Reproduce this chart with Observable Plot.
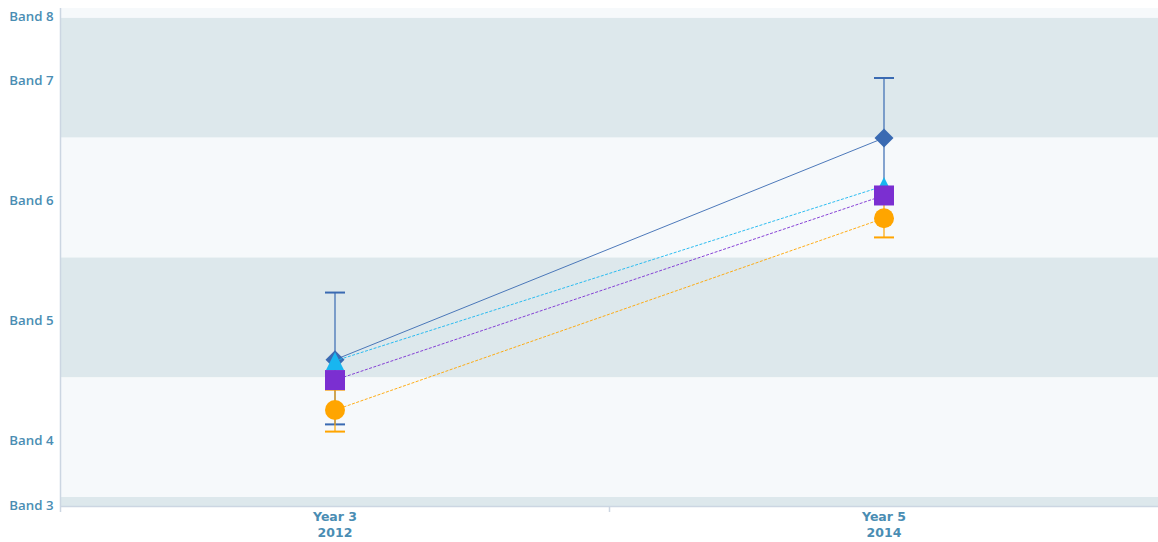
<!DOCTYPE html>
<html><head><meta charset="utf-8">
<script src="https://cdn.jsdelivr.net/npm/d3@7"></script>
<script src="https://cdn.jsdelivr.net/npm/@observablehq/plot@0.6"></script>
<style>body{margin:0;background:#fff;}</style>
</head><body><div id="chart"></div>
<script>
// ---- data ----
const categories = ["Year 3", "Year 5"];
const years = ["2012", "2014"];
const bandLabels = ["Band 3", "Band 4", "Band 5", "Band 6", "Band 7", "Band 8"];
const bandLabelValues = [3.46, 4, 5, 6, 7, 7.54];
const bandLow = [3, 3.5, 4.5, 5.5, 6.5, 7.5];
const bandHigh = [3.5, 4.5, 5.5, 6.5, 7.5, 8.5];
const yDomain = [3.425, 7.58];

const seriesNames = ["Series A", "Series B", "Series C", "Series D"];
const valuesA = [4.65, 6.5];
const valuesB = [4.64, 6.1];
const valuesC = [4.48, 6.02];
const valuesD = [4.23, 5.83];
const errLowA = [4.11, 6.0];
const errHighA = [5.21, 7.0];
const errLowD = [4.05, 5.67];
const errHighD = [4.4, 5.98];

// ---- styles ----
const seriesColors = ["#3a6ab2", "#18b6f0", "#7b2fd1", "#ffa500"];
const seriesDash = [null, "3,1.5", "3,1.5", "3,1.5"];
const labelColor = "#4a8db3";
const axisColor = "#ccd6e2";
const darkBand = "#dde8ec";
const lightBand = "#f6f9fb";
const xFont = "'DejaVu Sans', sans-serif";

const sym = {
  diamond: {draw(c, s) { const r = Math.sqrt(s / Math.PI); c.moveTo(0, -r); c.lineTo(r, 0); c.lineTo(0, r); c.lineTo(-r, 0); c.closePath(); }},
  triangle: {draw(c, s) { const r = Math.sqrt(s / Math.PI); c.moveTo(0, -r); c.lineTo(r, r); c.lineTo(-r, r); c.closePath(); }},
  square: {draw(c, s) { const r = Math.sqrt(s / Math.PI); c.rect(-r, -r, 2 * r, 2 * r); }},
  circle: {draw(c, s) { const r = Math.sqrt(s / Math.PI); c.moveTo(r, 0); c.arc(0, 0, r, 0, 2 * Math.PI); c.closePath(); }},
  cap: {draw(c, s) { const r = Math.sqrt(s / Math.PI); c.moveTo(-r, 0); c.lineTo(r, 0); }}
};
const seriesSymbols = [sym.diamond, sym.triangle, sym.square, sym.circle];
const seriesR = [9.5, 9, 10, 10];

const seriesValues = [valuesA, valuesB, valuesC, valuesD];
const seriesErr = [[errLowA, errHighA], null, null, [errLowD, errHighD]];

const xIdx = categories.map((_, i) => i + 0.5);
const bands = bandLabels.map((b, i) => ({band: b, lo: bandLow[i], hi: bandHigh[i], i}));
const catRows = categories.map((c, i) => ({x: xIdx[i], cat: c, year: years[i]}));

const marks = [];
marks.push(Plot.rect(bands, {x1: () => 0, x2: () => categories.length, y1: "lo", y2: "hi",
  fill: d => d.i % 2 === 0 ? darkBand : lightBand, clip: true}));
marks.push(Plot.ruleX([0], {stroke: axisColor, strokeWidth: 1.5}));
marks.push(Plot.ruleY([yDomain[0]], {stroke: axisColor, strokeWidth: 1.5}));
marks.push(Plot.axisX({ticks: [0, 1], tickSize: 6, tickFormat: () => "", label: null, stroke: axisColor, strokeWidth: 1.5}));
marks.push(Plot.axisY({ticks: bandLabelValues, tickSize: 0, tickPadding: 7, label: null,
  tickFormat: d => bandLabels[bandLabelValues.indexOf(d)],
  fill: labelColor, fontSize: 13.3, fontWeight: 600, dy: 3}));
marks.push(Plot.text(catRows, {x: "x", text: "cat", frameAnchor: "bottom", lineAnchor: "top",
  dy: 6, fill: labelColor, fontSize: 12.5, fontWeight: "bold", fontFamily: xFont}));
marks.push(Plot.text(catRows, {x: "x", text: "year", frameAnchor: "bottom", lineAnchor: "top",
  dy: 22, fill: labelColor, fontSize: 12.5, fontWeight: "bold", fontFamily: xFont}));

// error bars
seriesErr.forEach((e, s) => {
  if (!e) return;
  const rows = categories.map((c, i) => ({x: xIdx[i], lo: e[0][i], hi: e[1][i]}));
  marks.push(Plot.ruleX(rows, {x: "x", y1: "lo", y2: "hi", stroke: seriesColors[s], strokeWidth: 1.2}));
  marks.push(Plot.dot(rows, {x: "x", y: "lo", symbol: sym.cap, r: 10, fill: "none", stroke: seriesColors[s], strokeWidth: 2}));
  marks.push(Plot.dot(rows, {x: "x", y: "hi", symbol: sym.cap, r: 10, fill: "none", stroke: seriesColors[s], strokeWidth: 2}));
});

// lines + markers
seriesValues.forEach((vals, s) => {
  const rows = categories.map((c, i) => ({x: xIdx[i], y: vals[i], series: seriesNames[s]}));
  marks.push(Plot.line(rows, {x: "x", y: "y", stroke: seriesColors[s], strokeWidth: 1,
    strokeDasharray: seriesDash[s], strokeLinecap: "butt", strokeOpacity: 0.9}));
  marks.push(Plot.dot(rows, {x: "x", y: "y", symbol: seriesSymbols[s], r: seriesR[s], fill: seriesColors[s], stroke: "none"}));
});

const chart = Plot.plot({
  width: 1158, height: 542,
  marginLeft: 60, marginRight: 0, marginTop: 8, marginBottom: 36,
  style: {fontFamily: "'Open Sans', sans-serif", background: "#fff"},
  x: {domain: [0, categories.length], axis: null},
  y: {domain: yDomain, axis: null},
  marks
});
document.getElementById("chart").appendChild(chart);
</script>
</body></html>
